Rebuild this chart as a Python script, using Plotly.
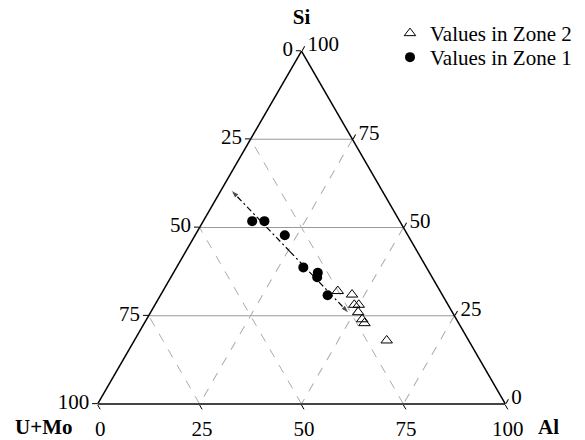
import plotly.graph_objects as go

# Zone 1 (filled circles): Si, U+Mo, Al (wt%)
z1_si = [51.8, 51.8, 47.8, 38.7, 37.2, 35.9, 30.8]
z1_umo = [36.2, 33.2, 30.2, 30.2, 27.4, 28.2, 28.2]
z1_al = [12.0, 15.0, 22.0, 31.1, 35.4, 35.9, 41.0]

# Zone 2 (open triangles)
z2_si = [32.0, 31.0, 28.1, 28.1, 26.0, 24.0, 22.9, 18.0]
z2_umo = [25.1, 22.1, 23.0, 21.9, 23.1, 23.1, 23.1, 20.1]
z2_al = [42.9, 46.9, 48.9, 50.0, 50.9, 52.9, 54.0, 61.9]

# Trend arrow (double headed): start, middle, end
arr_si = [60.6, 43.2, 25.7]
arr_umo = [37.0, 31.25, 25.5]
arr_al = [2.4, 25.6, 48.8]

ticks = [0, 25, 50, 75, 100]
ticks_rev = ["100", "75", "50", "25", "0"]

FONT = "Liberation Serif"
FS = 21

fig = go.Figure()

# arrow halves
for idx in ([1, 0], [1, 2]):
    fig.add_trace(go.Scatterternary(
        a=[arr_si[i] for i in idx], b=[arr_umo[i] for i in idx], c=[arr_al[i] for i in idx],
        mode="lines+markers",
        line=dict(color="black", width=1.2, dash="6px,3px,2px,3px"),
        marker=dict(symbol="arrow", size=[0, 9], color="black", angleref="previous"),
        showlegend=False, hoverinfo="skip"))

fig.add_trace(go.Scatterternary(
    a=z2_si, b=z2_umo, c=z2_al, mode="markers", name="Values in Zone 2",
    marker=dict(symbol="triangle-up-open", size=10, color="black", line=dict(width=1)),
    legend="legend"))
fig.add_trace(go.Scatterternary(
    a=z1_si, b=z1_umo, c=z1_al, mode="markers", name="Values in Zone 1",
    marker=dict(symbol="circle", size=10, color="black"),
    legend="legend2"))

axis_common = dict(
    min=0, tickmode="array", tickvals=ticks, ticktext=ticks_rev,
    ticks="outside", ticklen=5, tickcolor="black",
    linecolor="black", linewidth=1.5, showline=True,
    tickfont=dict(family=FONT, size=FS, color="black"),
    gridcolor="#aaaaaa", gridwidth=1,
)

legend_common = dict(xanchor="left", yanchor="top", font=dict(family=FONT, size=FS),
                     bgcolor="rgba(0,0,0,0)")

fig.update_layout(
    width=585, height=440,
    paper_bgcolor="white",
    margin=dict(l=0, r=0, t=0, b=0),
    font=dict(family=FONT, size=FS, color="black"),
    ternary=dict(
        sum=100,
        bgcolor="white",
        domain=dict(x=[97.7 / 585, 505.3 / 585], y=[(440 - 404.3) / 440, (440 - 50.7) / 440]),
        aaxis=dict(axis_common, title=dict(text="<b>Si</b>", font=dict(family=FONT, size=FS)),
                   griddash="solid", gridcolor="#999999"),
        baxis=dict(axis_common, title=dict(text=""),
                   griddash="dash", linecolor="#444444", linewidth=2),
        caxis=dict(axis_common, title=dict(text=""),
                   griddash="dash"),
    ),
    legend=dict(legend_common, x=390 / 585, y=1 - 13 / 440),
    legend2=dict(legend_common, x=390 / 585, y=1 - 37 / 440),
    annotations=[
        dict(text="<b>U+Mo</b>", x=43 / 585, y=(440 - 427) / 440, xref="paper", yref="paper",
             showarrow=False, font=dict(family=FONT, size=FS), xanchor="center", yanchor="middle"),
        dict(text="<b>Al</b>", x=548 / 585, y=(440 - 427) / 440, xref="paper", yref="paper",
             showarrow=False, font=dict(family=FONT, size=FS), xanchor="center", yanchor="middle"),
    ],
)

fig.write_html("out.html")
